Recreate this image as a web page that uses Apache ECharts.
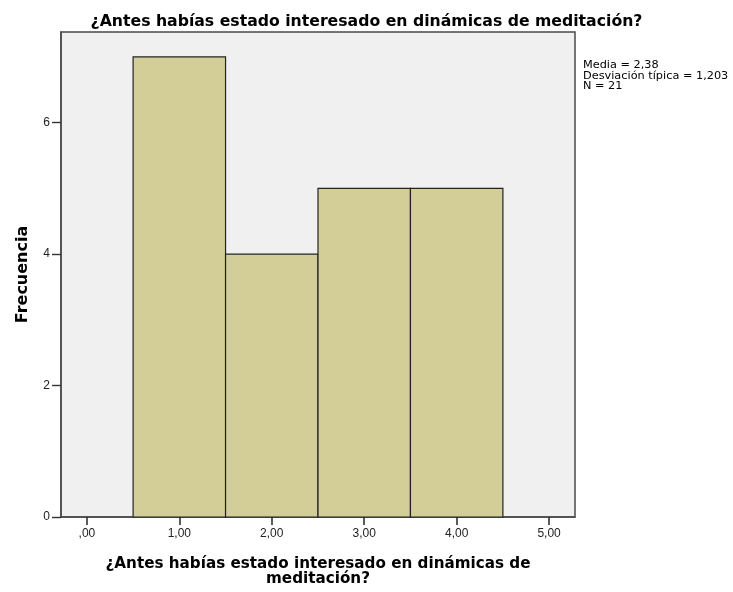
<!DOCTYPE html>
<html>
<head>
<meta charset="utf-8">
<script src="https://cdn.jsdelivr.net/npm/echarts@6/dist/echarts.min.js"></script>
<style>
html,body{margin:0;padding:0;background:#fff;}
#c{width:733px;height:592px;}
</style>
</head>
<body>
<div id="c"></div>
<script>
// Data
var chartTitle = '¿Antes habías estado interesado en dinámicas de meditación?';
var xAxisTitle = '¿Antes habías estado interesado en dinámicas de\nmeditación?';
var yAxisTitle = 'Frecuencia';
var binCenters = [1, 2, 3, 4];
var binWidth = 1;
var frequencies = [7, 4, 5, 5];
var xTickValues = [0, 1, 2, 3, 4, 5];
var yTickValues = [0, 2, 4, 6];
var statsLines = ['Media = 2,38', 'Desviación típica = 1,203', 'N = 21'];

var BOLD = '"DejaVu Sans", "Liberation Sans", Arial, sans-serif';
var FONT = '"Liberation Sans", Arial, sans-serif';
var chart = echarts.init(document.getElementById('c'), null, {renderer: 'canvas'});

var seriesData = binCenters.map(function (c, i) {
  return [c - binWidth / 2, c + binWidth / 2, frequencies[i]];
});

function fmt(v) {
  var s = v.toFixed(2).replace('.', ',');
  if (s.indexOf('0,') === 0) s = s.substring(1);
  return s;
}

chart.setOption({
  animation: false,
  backgroundColor: '#ffffff',
  title: {
    text: chartTitle,
    left: 'center',
    top: 9,
    textStyle: {fontFamily: BOLD, fontSize: 15.7, fontWeight: 'bold', color: '#000'}
  },
  grid: {
    left: 61, right: 158, top: 32, bottom: 75,
    show: true, backgroundColor: '#f0f0f0', borderColor: '#4a4a4a', borderWidth: 1.5
  },
  xAxis: {
    type: 'value',
    min: -0.28, max: 5.28,
    name: xAxisTitle,
    nameLocation: 'middle',
    nameGap: 40,
    nameTextStyle: {fontFamily: BOLD, fontSize: 15.2, fontWeight: 'bold', color: '#000', lineHeight: 15},
    axisLine: {show: true, onZero: false, lineStyle: {color: '#4a4a4a', width: 1.5}},
    axisTick: {show: true, length: 8, customValues: xTickValues, lineStyle: {color: '#333', width: 1.6}},
    axisLabel: {customValues: xTickValues, formatter: fmt, fontFamily: FONT, fontSize: 12, color: '#222', margin: 11},
    splitLine: {show: false}
  },
  yAxis: {
    type: 'value',
    min: 0, max: 7.38,
    name: yAxisTitle,
    nameLocation: 'middle',
    nameRotate: 90,
    nameGap: 30,
    nameTextStyle: {fontFamily: BOLD, fontSize: 16, fontWeight: 'bold', color: '#000'},
    axisLine: {show: true, onZero: false, lineStyle: {color: '#4a4a4a', width: 1.5}},
    axisTick: {show: true, length: 9, customValues: yTickValues, lineStyle: {color: '#333', width: 1.4}},
    axisLabel: {customValues: yTickValues, fontFamily: FONT, fontSize: 12, color: '#222', margin: 11},
    splitLine: {show: false}
  },
  graphic: [{
    type: 'text',
    left: 583, top: 60,
    style: {
      text: statsLines.join('\n'),
      fontFamily: '"DejaVu Sans", sans-serif', fontSize: 11.3, lineHeight: 10.5, fill: '#000'
    }
  }],
  series: [{
    type: 'custom',
    renderItem: function (params, api) {
      var p0 = api.coord([api.value(0), api.value(2)]);
      var p1 = api.coord([api.value(1), 0]);
      return {
        type: 'rect',
        shape: {x: p0[0], y: p0[1], width: p1[0] - p0[0], height: p1[1] - p0[1]},
        style: {fill: '#d3ce97', stroke: '#222', lineWidth: 1.2}
      };
    },
    encode: {x: [0, 1], y: 2},
    data: seriesData
  }]
});
</script>
</body>
</html>
